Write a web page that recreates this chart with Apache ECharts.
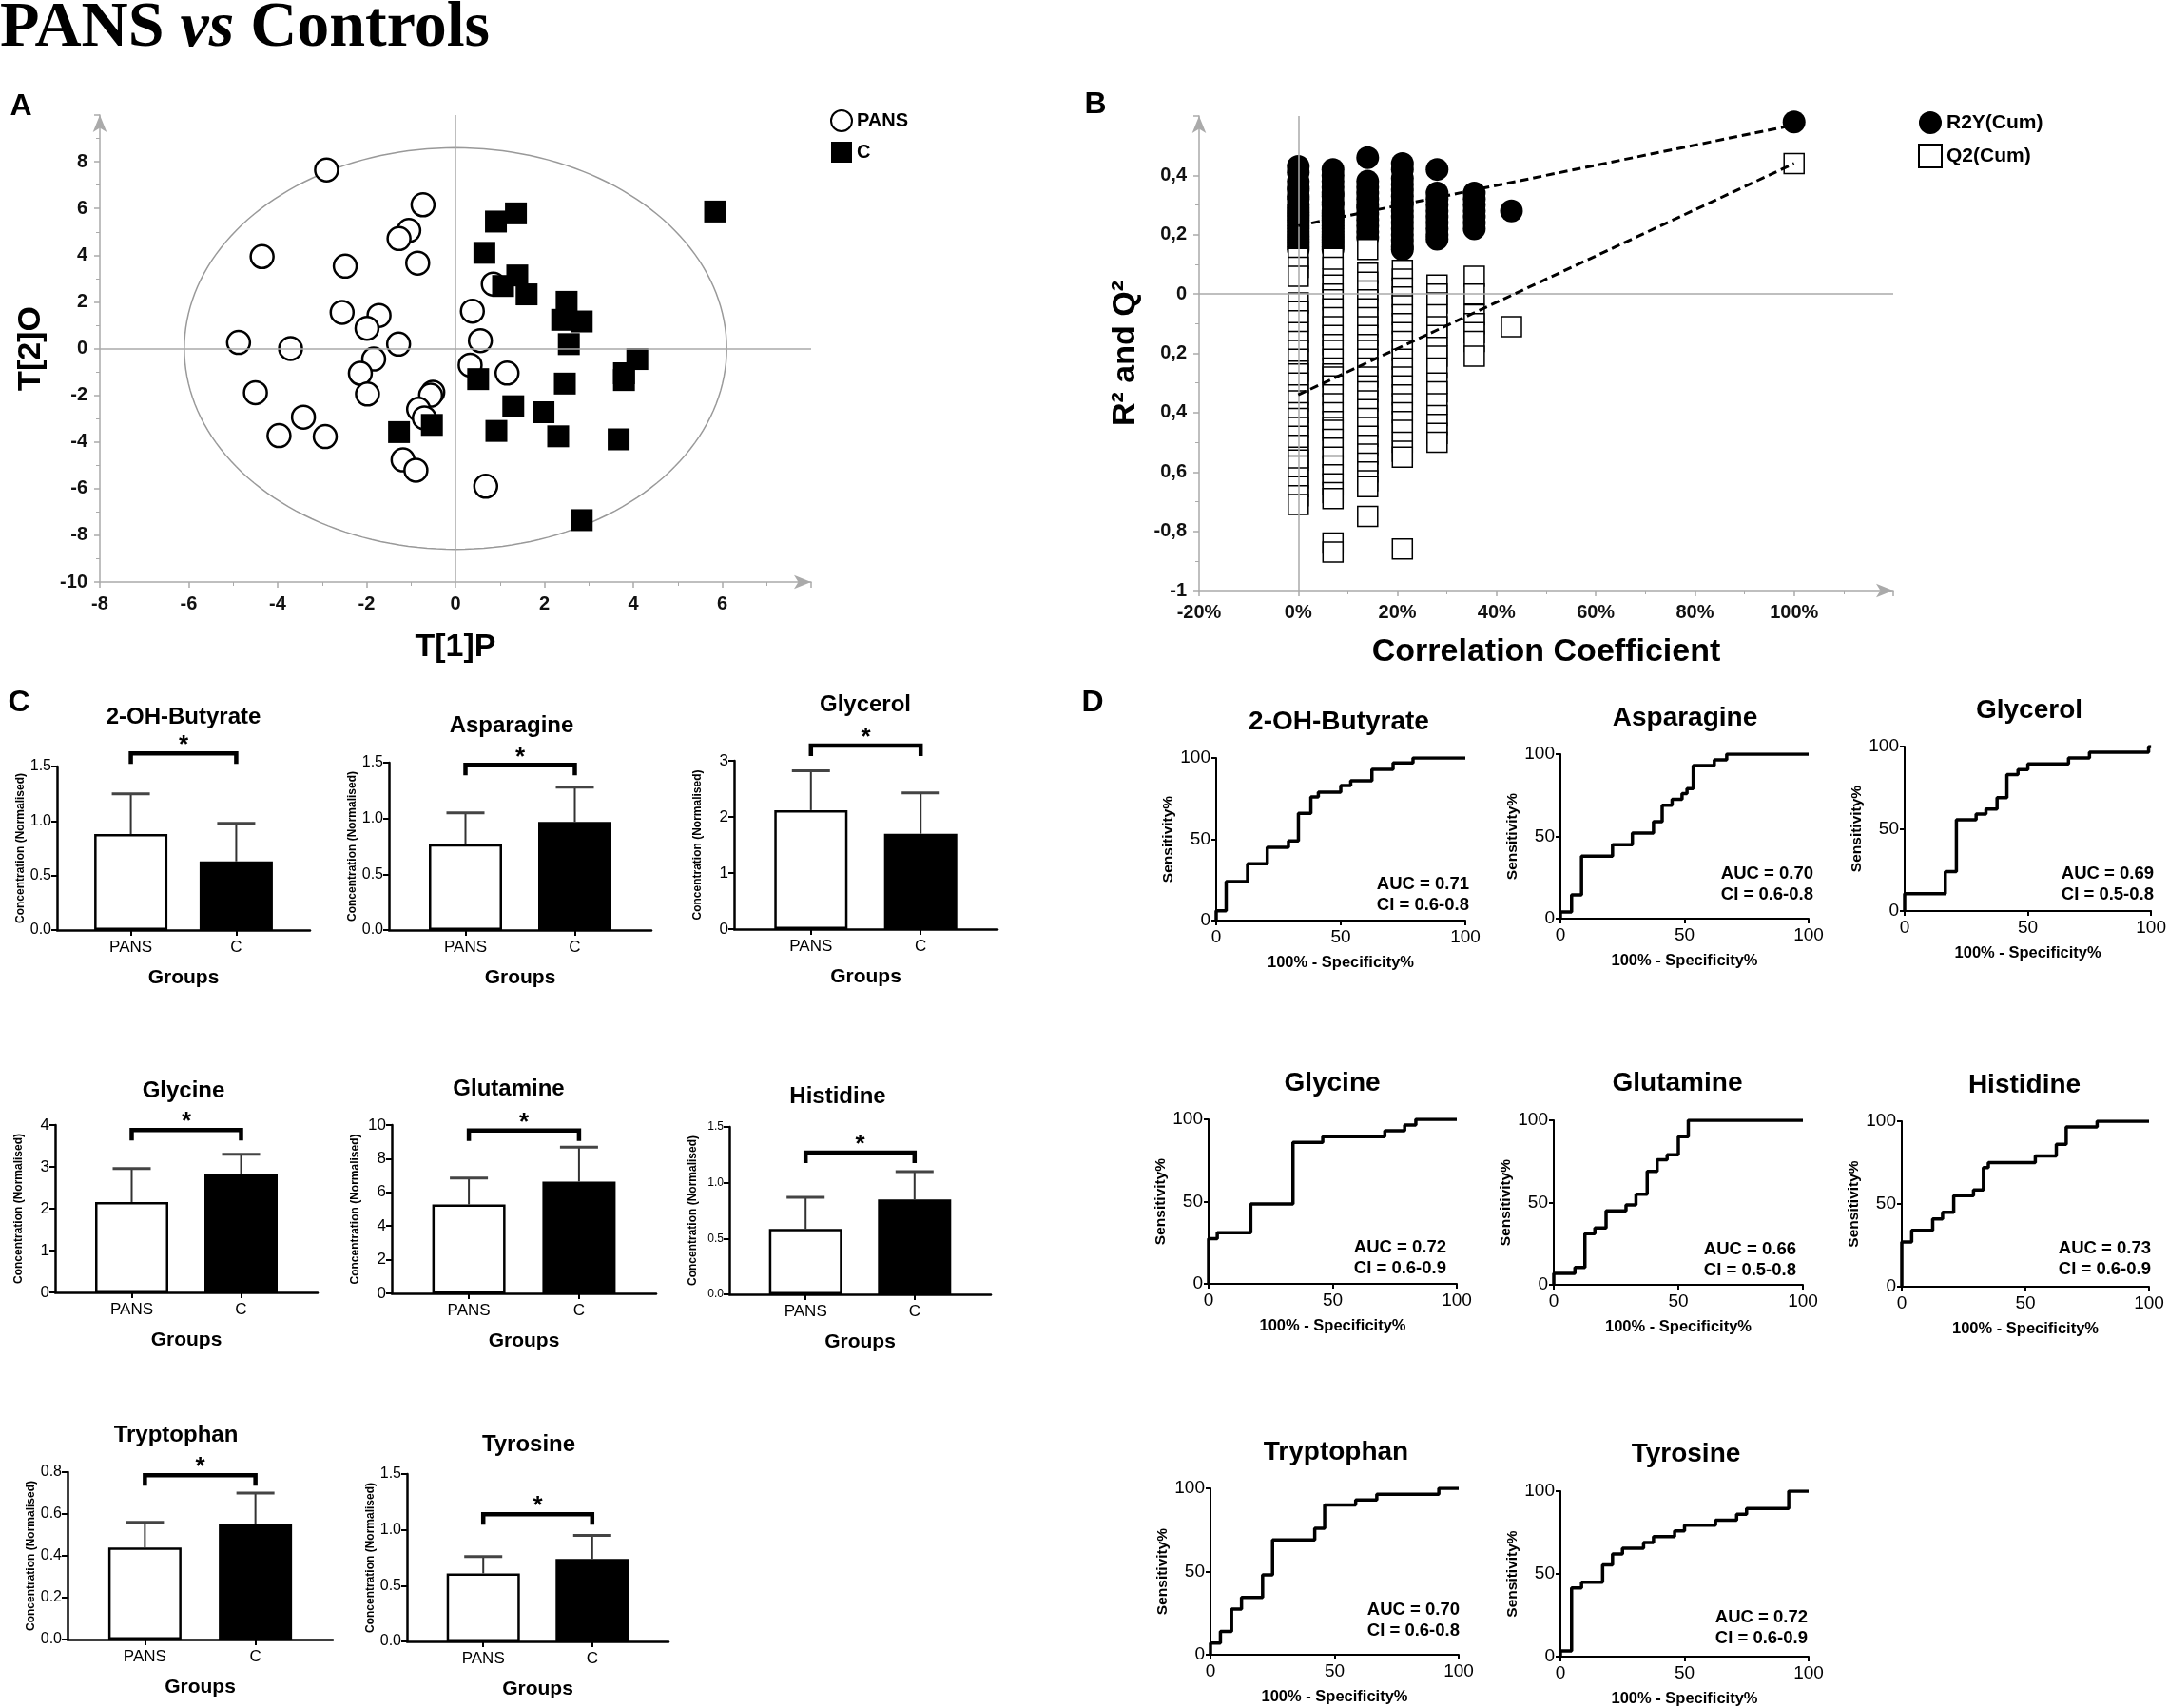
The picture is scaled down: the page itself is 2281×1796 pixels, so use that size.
<!DOCTYPE html>
<html>
<head>
<meta charset="utf-8">
<script src="https://cdn.jsdelivr.net/npm/echarts@6/dist/echarts.min.js"></script>
<style>
html, body { margin: 0; padding: 0; background: #fff; }
#main { width: 2281px; height: 1796px; }
</style>
</head>
<body>
<div id="main"></div>
<script>
// ---------- data: panel A (OPLS-DA scores) ----------
var pansT1 = [-2.9, -0.73, -1.05, -1.27, -4.35, -0.85, -2.48, -2.55, -1.72, -1.99, -4.88, -3.71, -1.28, -1.84, -2.14, -4.5,
              -1.98, -0.51, -0.56, -3.42, -0.83, -0.7, -3.97, -2.93, -1.18, -0.89, 0.68, 0.38, 0.56, 0.85, 0.33, 1.16];
var pansT2 = [7.65, 6.16, 5.06, 4.71, 3.94, 3.66, 3.53, 1.55, 1.42, 0.87, 0.26, 0.0, 0.19, -0.45, -1.06, -1.89,
              -1.95, -1.87, -2.0, -2.94, -2.6, -2.97, -3.73, -3.77, -4.77, -5.21, -5.9, 1.6, 0.34, 2.76, -0.71, -1.05];
var ctrlT1 = [5.84, 1.36, 0.91, 0.65, 1.39, 1.07, 1.6, 2.5, 2.4, 2.84, 2.55, 4.09, 3.79, 3.79, 0.51, 2.46,
              1.3, 1.98, -1.27, -0.53, 0.92, 2.31, 3.67, 2.84];
var ctrlT2 = [5.87, 5.79, 5.44, 4.1, 3.13, 2.68, 2.32, 2.0, 1.23, 1.16, 0.19, -0.45, -1.06, -1.35, -1.31, -1.5,
              -2.47, -2.73, -3.58, -3.27, -3.53, -3.76, -3.89, -7.35];
var ellipseR = [6.1, 8.6];

// ---------- data: panel B (permutation test) ----------
var permCorr = [0, 0.07, 0.14, 0.21, 0.28, 0.355, 0.43];
var r2yCols = [
  [0.43, 0.41, 0.38, 0.36, 0.35, 0.33, 0.32, 0.30, 0.29, 0.28, 0.27, 0.26, 0.25, 0.24, 0.23, 0.22, 0.21, 0.20, 0.19, 0.18, 0.17, 0.16, 0.15],
  [0.42, 0.40, 0.38, 0.36, 0.34, 0.33, 0.31, 0.30, 0.28, 0.27, 0.26, 0.25, 0.24, 0.23, 0.22, 0.21, 0.20, 0.19, 0.18, 0.17, 0.16, 0.15],
  [0.46, 0.38, 0.36, 0.34, 0.32, 0.30, 0.29, 0.27, 0.25, 0.23, 0.21, 0.19],
  [0.44, 0.42, 0.39, 0.37, 0.35, 0.33, 0.31, 0.30, 0.28, 0.26, 0.24, 0.22, 0.20, 0.18, 0.16, 0.15],
  [0.42, 0.34, 0.32, 0.30, 0.28, 0.26, 0.24, 0.22, 0.20, 0.185],
  [0.34, 0.32, 0.30, 0.28, 0.26, 0.24, 0.22],
  [0.28]
];
var q2Cols = [
  [0.12, 0.09, 0.06, -0.03, -0.06, -0.09, -0.13, -0.16, -0.19, -0.22, -0.26, -0.27, -0.30, -0.34, -0.36, -0.40, -0.42, -0.45,
   -0.48, -0.51, -0.55, -0.56, -0.58, -0.62, -0.65, -0.68, -0.71],
  [0.12, 0.09, 0.05, 0.03, 0.0, -0.02, -0.05, -0.08, -0.11, -0.14, -0.17, -0.19, -0.22, -0.25, -0.27, -0.28, -0.31, -0.34,
   -0.37, -0.40, -0.43, -0.45, -0.46, -0.49, -0.52, -0.55, -0.58, -0.61, -0.64, -0.67, -0.69, -0.84, -0.87],
  [0.15, 0.07, 0.04, 0.01, -0.02, -0.05, -0.08, -0.11, -0.14, -0.17, -0.19, -0.22, -0.25, -0.28, -0.31, -0.33, -0.36, -0.39,
   -0.42, -0.45, -0.48, -0.51, -0.54, -0.57, -0.60, -0.63, -0.65, -0.75],
  [0.08, 0.05, 0.02, -0.01, -0.04, -0.07, -0.10, -0.13, -0.16, -0.19, -0.22, -0.25, -0.28, -0.31, -0.34, -0.37, -0.40, -0.43,
   -0.46, -0.50, -0.53, -0.55, -0.86],
  [0.03, 0.0, -0.03, -0.07, -0.11, -0.14, -0.18, -0.21, -0.25, -0.30, -0.33, -0.37, -0.41, -0.44, -0.47, -0.50],
  [0.06, 0.0, -0.07, -0.10, -0.13, -0.16, -0.21],
  [-0.11]
];
var r2yModel = 0.58, q2Model = 0.44;
var r2yLine = [0.23, 0.57];   // regression value at 0% and at 100%
var q2Line = [-0.34, 0.44];

// ---------- data: panel C (bar charts) ----------
var metabolites = ['2-OH-Butyrate', 'Asparagine', 'Glycerol', 'Glycine', 'Glutamine', 'Histidine', 'Tryptophan', 'Tyrosine'];
var groups = ['PANS', 'C'];
var pansMean = [0.88, 0.77, 2.12, 2.16, 5.28, 0.585, 0.44, 0.61];
var pansUpper = [1.25, 1.05, 2.82, 2.96, 6.85, 0.87, 0.56, 0.76];
var ctrlMean = [0.63, 0.97, 1.70, 2.82, 6.64, 0.85, 0.55, 0.74];
var ctrlUpper = [0.98, 1.28, 2.43, 3.30, 8.68, 1.10, 0.70, 0.95];
var concMax = [1.5, 1.5, 3, 4, 10, 1.5, 0.8, 1.5];
var concStep = [0.5, 0.5, 1, 1, 2, 0.5, 0.2, 0.5];
var bracketAt = [1.62, 1.48, 3.27, 3.88, 9.68, 1.27, 0.785, 1.14];

// ---------- data: panel D (ROC curves) ----------
var rocFpr = [
  [0, 0, 4, 12.6, 20.5, 29, 33, 38, 41, 50, 54, 62.5, 71, 79, 100],
  [0, 0, 4.5, 8.5, 21, 29, 37.5, 41, 45, 49, 51, 53.5, 62, 67, 100],
  [0, 0, 16.5, 21, 29, 33, 37.5, 41.5, 46, 50, 66.5, 75, 99, 100],
  [0, 0, 3.5, 17, 34, 46, 71, 79, 83.5, 100],
  [0, 0, 8.5, 12.5, 16.5, 21, 29, 33, 37.5, 41.5, 45.5, 50, 54, 100],
  [0, 0, 4, 12.5, 16.5, 21, 29, 33, 35, 54, 62.5, 66.5, 79, 100],
  [0, 0, 4, 8.5, 12.5, 21, 25, 42, 46, 58.5, 67, 92, 100],
  [0, 0, 4.5, 8.5, 17, 21, 25, 33.5, 37.5, 46, 50, 62.5, 71, 75, 92, 100]
];
var rocTpr = [
  [0, 6, 24, 35, 45, 49, 66, 76, 79, 83, 86, 93, 97, 100, 100],
  [0, 4, 14.5, 38, 45, 52, 59, 69, 72.5, 76, 79, 93, 96.5, 100, 100],
  [0, 10.5, 24, 55.5, 59, 62, 69, 83, 86, 89.5, 93, 96.5, 100, 100],
  [0, 27.5, 31, 48.5, 86, 89.5, 93, 96.5, 100, 100],
  [0, 7, 10.5, 31, 34.5, 45, 48.5, 55, 69, 76, 79, 90, 100, 100],
  [0, 27, 34, 41, 45, 55, 58.5, 72, 75, 79, 86, 96.5, 100, 100],
  [0, 7, 14, 27.5, 34.5, 48, 69, 76, 90, 93, 96.5, 100, 100],
  [0, 3.5, 41.5, 45, 55.5, 62, 65.5, 69, 72.5, 76, 79.5, 82.5, 86, 89.5, 100, 100]
];
var aucText = ['0.71', '0.70', '0.69', '0.72', '0.66', '0.73', '0.70', '0.72'];
var ciText = ['0.6-0.8', '0.6-0.8', '0.5-0.8', '0.6-0.9', '0.5-0.8', '0.6-0.9', '0.6-0.8', '0.6-0.9'];

// ---------- layout (pixels) ----------
var SANS = "'Liberation Sans', Arial, Helvetica, sans-serif";
var SERIF = "'Liberation Serif', 'Times New Roman', serif";
// [axis left, axis right, top (max), bottom (0)]
var barBox = [[60, 326, 806, 978], [409, 685, 802, 978], [772, 1049, 800, 977],
              [58, 334, 1183, 1359], [412, 690, 1183, 1360], [767, 1042, 1185, 1361],
              [71, 350, 1548, 1724], [428, 703, 1550, 1726]];
var barTitlePos = [[193, 754], [538, 763], [910, 741], [193, 1147], [535, 1145], [881, 1153], [185, 1509], [556, 1519]];
var barLabelSize = [16, 16, 17, 17, 17, 12, 16, 16];
var rocBox = [[1279, 1541, 797, 968], [1641, 1902, 793, 966], [2003, 2265, 785, 958],
              [1271, 1532, 1177, 1350], [1634, 1896, 1178, 1351], [2000, 2260, 1179, 1353],
              [1273, 1534, 1565, 1740], [1641, 1902, 1568, 1742]];
var rocTitlePos = [[1408, 759], [1772, 755], [2134, 747], [1401, 1139], [1764, 1139], [2129, 1141], [1405, 1527], [1773, 1529]];
var aucPos = [[1545, 930], [1907, 919], [2265, 919], [1521, 1312], [1889, 1314], [2262, 1313], [1535, 1693], [1901, 1701]];

var myChart = echarts.init(document.getElementById('main'));

var option = {
  animation: false,
  backgroundColor: '#fff',
  grid: [], xAxis: [], yAxis: [], series: [], legend: [], graphic: []
};

function txt(x, y, s, font, align, valign) {
  return {
    type: 'text', x: x, y: y, silent: true,
    style: { text: s, font: font, fill: '#000', align: align || 'center', textAlign: align || 'center',
             verticalAlign: valign || 'middle', textVerticalAlign: valign || 'middle' }
  };
}

var grayAxis = {
  show: true, onZero: false, symbol: ['none', 'arrow'], symbolSize: [11, 18],
  lineStyle: { color: '#aaa', width: 1.5 }
};
var grayTick = { show: true, length: 6, lineStyle: { color: '#aaa', width: 1.5 } };
var grayMinor = { show: true, splitNumber: 2, length: 4, lineStyle: { color: '#aaa', width: 1 } };
var tickFont = { fontFamily: SANS, fontWeight: 'bold', fontSize: 20, color: '#111' };

// ---------- panel A ----------
option.grid.push({ left: 105, top: 121, width: 748, height: 491 });
option.xAxis.push({
  gridIndex: 0, type: 'value', min: -8, max: 8, interval: 2,
  axisLine: grayAxis, axisTick: grayTick, minorTick: grayMinor, splitLine: { show: false },
  axisLabel: Object.assign({ margin: 13, formatter: function (v) { return v > 6 ? '' : v; } }, tickFont),
  name: 'T[1]P', nameLocation: 'middle', nameGap: 52,
  nameTextStyle: { fontFamily: SANS, fontWeight: 'bold', fontSize: 34, color: '#000' }
});
option.yAxis.push({
  gridIndex: 0, type: 'value', min: -10, max: 10, interval: 2,
  axisLine: grayAxis, axisTick: grayTick, minorTick: grayMinor, splitLine: { show: false },
  axisLabel: Object.assign({ margin: 13, formatter: function (v) { return v > 8 ? '' : v; } }, tickFont),
  name: 'T[2]O', nameLocation: 'middle', nameGap: 55, nameRotate: 90,
  nameTextStyle: { fontFamily: SANS, fontWeight: 'bold', fontSize: 34, color: '#000' }
});
option.series.push({
  type: 'custom', xAxisIndex: 0, yAxisIndex: 0, silent: true, clip: false, z: 1,
  data: [[0, 0, ellipseR[0], ellipseR[1]]],
  renderItem: function (params, api) {
    var cx = api.value(0), cy = api.value(1), rx = api.value(2), ry = api.value(3);
    var pts = [];
    for (var k = 0; k <= 180; k++) {
      var t = k / 180 * 2 * Math.PI;
      pts.push(api.coord([cx + rx * Math.cos(t), cy + ry * Math.sin(t)]));
    }
    return { type: 'polyline', shape: { points: pts }, style: { stroke: '#999', lineWidth: 1.5, fill: null } };
  }
});
option.series.push({
  type: 'scatter', name: 'PANS', xAxisIndex: 0, yAxisIndex: 0, z: 3,
  data: pansT1.map(function (v, i) { return [v, pansT2[i]]; }),
  symbol: 'circle', symbolSize: 24,
  itemStyle: { color: '#fff', borderColor: '#000', borderWidth: 2.5, opacity: 1 },
  markLine: {
    silent: true, symbol: 'none', label: { show: false }, animation: false,
    lineStyle: { color: '#aaa', width: 1.5, type: 'solid' },
    data: [{ xAxis: 0 }, { yAxis: 0 }]
  }
});
option.series.push({
  type: 'scatter', name: 'C', xAxisIndex: 0, yAxisIndex: 0, z: 4,
  data: ctrlT1.map(function (v, i) { return [v, ctrlT2[i]]; }),
  symbol: 'rect', symbolSize: 23,
  itemStyle: { color: '#000', opacity: 1 }
});
option.legend.push({
  orient: 'vertical', left: 868, top: 110, itemWidth: 22, itemHeight: 22, itemGap: 10,
  textStyle: { fontFamily: SANS, fontWeight: 'bold', fontSize: 20, color: '#000' },
  data: [{ name: 'PANS', icon: 'circle' }, { name: 'C', icon: 'rect' }]
});

// ---------- panel B ----------
option.grid.push({ left: 1261, top: 122, width: 730, height: 499 });
option.xAxis.push({
  gridIndex: 1, type: 'value', min: -0.2, max: 1.2, interval: 0.2,
  axisLine: grayAxis, axisTick: grayTick, minorTick: grayMinor, splitLine: { show: false },
  axisLabel: Object.assign({ margin: 13, formatter: function (v) {
    return v > 1.01 ? '' : Math.round(v * 100) + '%';
  } }, tickFont),
  name: 'Correlation Coefficient', nameLocation: 'middle', nameGap: 48,
  nameTextStyle: { fontFamily: SANS, fontWeight: 'bold', fontSize: 34, color: '#000' }
});
option.yAxis.push({
  gridIndex: 1, type: 'value', min: -1, max: 0.6, interval: 0.2,
  axisLine: grayAxis, axisTick: grayTick, minorTick: grayMinor, splitLine: { show: false },
  axisLabel: Object.assign({ margin: 13, formatter: function (v) {
    if (v > 0.5) return '';
    if (Math.abs(v) < 1e-6) return '0';
    if (v < -0.99) return '-1';
    var s = Math.abs(v).toFixed(1).replace('.', ',');
    return v < -0.7 ? '-' + s : s;
  } }, tickFont),
  name: 'R² and Q²', nameLocation: 'middle', nameGap: 60, nameRotate: 90,
  nameTextStyle: { fontFamily: SANS, fontWeight: 'bold', fontSize: 34, color: '#000' }
});
var r2yData = [], q2Data = [];
r2yCols.forEach(function (col, i) { col.forEach(function (v) { r2yData.push([permCorr[i], v]); }); });
q2Cols.forEach(function (col, i) { col.forEach(function (v) { q2Data.push([permCorr[i], v]); }); });
r2yData.push([1, r2yModel]);
q2Data.push([1, q2Model]);
option.series.push({
  type: 'scatter', name: 'R2Y(Cum)', xAxisIndex: 1, yAxisIndex: 1, z: 3,
  data: r2yData, symbol: 'circle', symbolSize: 24, itemStyle: { color: '#000', opacity: 1 },
  markLine: {
    silent: true, symbol: 'none', label: { show: false }, animation: false,
    lineStyle: { color: '#aaa', width: 1.5, type: 'solid' },
    data: [{ xAxis: 0 }, { yAxis: 0 }]
  }
});
option.series.push({
  type: 'scatter', name: 'Q2(Cum)', xAxisIndex: 1, yAxisIndex: 1, z: 4,
  data: q2Data, symbol: 'rect', symbolSize: 21,
  itemStyle: { color: '#fff', borderColor: '#000', borderWidth: 1.5, opacity: 1 }
});
[r2yLine, q2Line].forEach(function (ln) {
  option.series.push({
    type: 'line', xAxisIndex: 1, yAxisIndex: 1, z: 6, silent: true,
    data: [[0, ln[0]], [1, ln[1]]], symbol: 'none',
    lineStyle: { color: '#000', width: 3, type: [9, 5] }
  });
});
option.legend.push({
  orient: 'vertical', left: 2012, top: 112, itemWidth: 24, itemHeight: 24, itemGap: 10,
  textStyle: { fontFamily: SANS, fontWeight: 'bold', fontSize: 21, color: '#000' },
  data: [{ name: 'R2Y(Cum)', icon: 'circle' }, { name: 'Q2(Cum)', icon: 'rect' }]
});

// ---------- panel C ----------
metabolites.forEach(function (m, k) {
  var g = 2 + k, b = barBox[k];
  option.grid.push({ left: b[0], top: b[2], width: b[1] - b[0], height: b[3] - b[2] });
  option.xAxis.push({
    gridIndex: g, type: 'value', min: 0.3, max: 2.7,
    axisLine: { show: true, onZero: false, lineStyle: { color: '#000', width: 2.5 } },
    axisTick: { show: true, customValues: [1, 2], length: 6, lineStyle: { color: '#000', width: 2 } },
    axisLabel: { customValues: [1, 2], formatter: function (v) { return groups[Math.round(v) - 1]; },
                 fontFamily: SANS, fontSize: 17, color: '#000', margin: 10 },
    splitLine: { show: false },
    name: 'Groups', nameLocation: 'middle', nameGap: 40,
    nameTextStyle: { fontFamily: SANS, fontWeight: 'bold', fontSize: 21, color: '#000' }
  });
  option.yAxis.push({
    gridIndex: g, type: 'value', min: 0, max: concMax[k], interval: concStep[k],
    axisLine: { show: true, lineStyle: { color: '#000', width: 2.5 } },
    axisTick: { show: true, length: 6, lineStyle: { color: '#000', width: 2 } },
    axisLabel: { fontFamily: SANS, fontSize: barLabelSize[k], color: '#000', margin: 6,
                 formatter: function (v) { return concStep[k] < 1 ? v.toFixed(1) : String(v); } },
    splitLine: { show: false },
    name: 'Concentration (Normalised)', nameLocation: 'middle', nameGap: 32, nameRotate: 90,
    nameTextStyle: { fontFamily: SANS, fontWeight: 'bold', fontSize: 12, color: '#000' }
  });
  option.series.push({
    type: 'bar', xAxisIndex: g, yAxisIndex: g, barWidth: 77, silent: true,
    data: [
      { value: [1, pansMean[k]], itemStyle: { color: '#fff', borderColor: '#000', borderWidth: 2.5 } },
      { value: [2, ctrlMean[k]], itemStyle: { color: '#000', borderColor: '#000', borderWidth: 2.5 } }
    ]
  });
  option.series.push({
    type: 'custom', xAxisIndex: g, yAxisIndex: g, silent: true, clip: false, z: 5,
    data: [[1, pansMean[k], pansUpper[k]], [2, ctrlMean[k], ctrlUpper[k]]],
    renderItem: function (params, api) {
      var p0 = api.coord([api.value(0), api.value(1)]);
      var p1 = api.coord([api.value(0), api.value(2)]);
      return {
        type: 'group', children: [
          { type: 'line', shape: { x1: p0[0], y1: p0[1], x2: p1[0], y2: p1[1] }, style: { stroke: '#333', lineWidth: 2 } },
          { type: 'line', shape: { x1: p1[0] - 20, y1: p1[1], x2: p1[0] + 20, y2: p1[1] }, style: { stroke: '#444', lineWidth: 3 } }
        ]
      };
    }
  });
  option.series.push({
    type: 'custom', xAxisIndex: g, yAxisIndex: g, silent: true, clip: false, z: 5,
    data: [[1, 2, bracketAt[k]]],
    renderItem: function (params, api) {
      var a = api.coord([api.value(0), api.value(2)]);
      var c = api.coord([api.value(1), api.value(2)]);
      return {
        type: 'group', children: [
          { type: 'polyline', shape: { points: [[a[0], a[1] + 11], [a[0], a[1]], [c[0], c[1]], [c[0], c[1] + 11]] },
            style: { stroke: '#000', lineWidth: 4.5, fill: null } },
          { type: 'text', x: (a[0] + c[0]) / 2, y: a[1] - 8,
            style: { text: '*', font: "bold 26px " + SANS, fill: '#000', align: 'center', textAlign: 'center',
                     verticalAlign: 'middle', textVerticalAlign: 'middle' } }
        ]
      };
    }
  });
  option.graphic.push(txt(barTitlePos[k][0], barTitlePos[k][1], m, "bold 24px " + SANS));
});

// ---------- panel D ----------
metabolites.forEach(function (m, k) {
  var g = 10 + k, b = rocBox[k];
  option.grid.push({ left: b[0], top: b[2], width: b[1] - b[0], height: b[3] - b[2] });
  option.xAxis.push({
    gridIndex: g, type: 'value', min: 0, max: 100, interval: 50,
    axisLine: { show: true, onZero: false, lineStyle: { color: '#000', width: 2 } },
    axisTick: { show: true, length: 5, lineStyle: { color: '#000', width: 2 } },
    axisLabel: { fontFamily: SANS, fontSize: 19, color: '#000', margin: 8 },
    splitLine: { show: false },
    name: '100% - Specificity%', nameLocation: 'middle', nameGap: 36,
    nameTextStyle: { fontFamily: SANS, fontWeight: 'bold', fontSize: 16.5, color: '#000' }
  });
  option.yAxis.push({
    gridIndex: g, type: 'value', min: 0, max: 100, interval: 50,
    axisLine: { show: true, onZero: false, lineStyle: { color: '#000', width: 2 } },
    axisTick: { show: true, length: 5, lineStyle: { color: '#000', width: 2 } },
    axisLabel: { fontFamily: SANS, fontSize: 19, color: '#000', margin: 6 },
    splitLine: { show: false },
    name: 'Sensitivity%', nameLocation: 'middle', nameGap: 42, nameRotate: 90,
    nameTextStyle: { fontFamily: SANS, fontWeight: 'bold', fontSize: 15.5, color: '#000' }
  });
  option.series.push({
    type: 'line', xAxisIndex: g, yAxisIndex: g, step: 'end', symbol: 'none', silent: true, z: 4,
    data: rocFpr[k].map(function (v, i) { return [v, rocTpr[k][i]]; }),
    lineStyle: { color: '#000', width: 3.5 }
  });
  option.graphic.push(txt(rocTitlePos[k][0], rocTitlePos[k][1], m, "bold 28px " + SANS));
  option.graphic.push(txt(aucPos[k][0], aucPos[k][1], 'AUC = ' + aucText[k], "bold 18.5px " + SANS, 'right'));
  option.graphic.push(txt(aucPos[k][0], aucPos[k][1] + 22, 'CI = ' + ciText[k], "bold 18.5px " + SANS, 'right'));
});

// ---------- headings ----------
option.graphic.push({
  type: 'text', x: 0, y: 64, silent: true,
  style: {
    text: '{a|PANS }{b|vs}{a| Controls}', fill: '#000', verticalAlign: 'bottom', textVerticalAlign: 'bottom',
    rich: {
      a: { fontFamily: SERIF, fontWeight: 'bold', fontSize: 68, fill: '#000' },
      b: { fontFamily: SERIF, fontWeight: 'bold', fontStyle: 'italic', fontSize: 68, fill: '#000' }
    }
  }
});
option.graphic.push(txt(22, 112, 'A', "bold 32px " + SANS));
option.graphic.push(txt(1152, 110, 'B', "bold 32px " + SANS));
option.graphic.push(txt(20, 739, 'C', "bold 32px " + SANS));
option.graphic.push(txt(1149, 739, 'D', "bold 32px " + SANS));

myChart.setOption(option);
</script>
</body>
</html>
